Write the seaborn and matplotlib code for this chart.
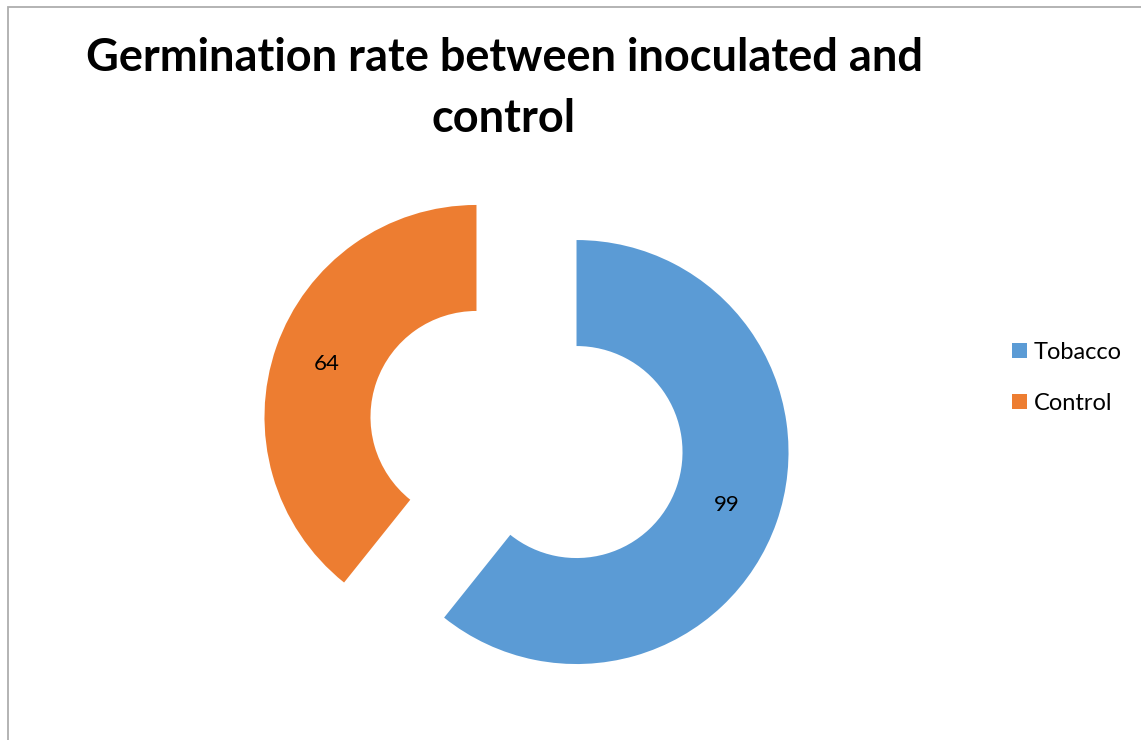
import matplotlib
matplotlib.use("Agg")
import matplotlib.pyplot as plt
import seaborn as sns
from matplotlib.patches import Rectangle

categories = ["Tobacco", "Control"]
values = [99, 64]
colors = ["#5B9BD5", "#ED7D31"]
title = "Germination rate between inoculated and\ncontrol"

sns.set_theme(style="white")
plt.rcParams["font.family"] = ["Lato", "DejaVu Sans"]
plt.rcParams["text.color"] = "black"

fig = plt.figure(figsize=(11.41, 7.40), dpi=100)
ax = fig.add_axes([0, 0, 1, 1])

total = sum(values)
wedges, texts, autotexts = ax.pie(
    values, colors=colors, startangle=90, counterclock=False,
    explode=[0.25, 0.25], radius=1,
    wedgeprops=dict(width=0.5, linewidth=0),
    autopct=lambda p: f"{p * total / 100:.0f}", pctdistance=0.75,
    textprops=dict(fontsize=16, color="black"),
)

# 212 px per unit, pie center at pixel (526.5, 434.5)
ax.set_aspect("auto")
ax.set_xlim(-526.5 / 212, 614.5 / 212)
ax.set_ylim(-305.5 / 212, 434.5 / 212)
ax.axis("off")

fig.text(504 / 1141, 1 - 37 / 740, title, ha="center", va="top",
         fontsize=32.5, fontweight="bold", linespacing=1.56, color="black")

leg = fig.legend(wedges, categories, loc="upper left",
                 bbox_to_anchor=(1012 / 1141, 1 - 342 / 740),
                 frameon=False, fontsize=17, handlelength=0.62,
                 handleheight=0.62, handletextpad=0.3, labelspacing=1.25,
                 borderpad=0, borderaxespad=0)
for t in leg.get_texts():
    t.set_color("black")

fig.add_artist(Rectangle((7.5 / 1141, -0.1), 1.2, 1.1 - 7.5 / 740,
                         transform=fig.transFigure, fill=False,
                         edgecolor="#AEAEAE", linewidth=1.3))

fig.savefig("out.png", dpi=100)
